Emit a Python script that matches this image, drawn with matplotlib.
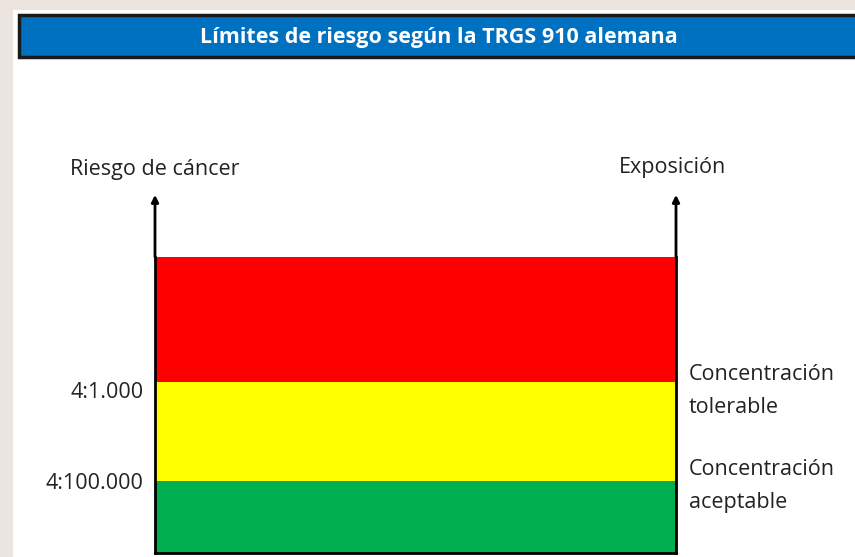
import matplotlib.pyplot as plt
from matplotlib.patches import Rectangle

plt.rcParams['font.family'] = ['Open Sans', 'DejaVu Sans']

# risk bands (bottom -> top), heights in arbitrary risk units
band_names = ["aceptable", "tolerable", "no tolerable"]
band_heights = [0.72, 0.99, 1.25]
band_colors = ["#00b050", "#ffff00", "#ff0000"]
tick_labels = ["4:100.000", "4:1.000"]
right_labels = ["Concentración\naceptable", "Concentración\ntolerable"]

W, H = 855, 557
fig = plt.figure(figsize=(W / 100, H / 100), dpi=100)
fig.patch.set_facecolor("#ece4de")

# white panel
fig.patches.append(Rectangle((13 / W, 0), 1, 1 - 10 / H, transform=fig.transFigure,
                             facecolor="white", edgecolor="none", zorder=-2))
# title bar
fig.patches.append(Rectangle((19 / W, 1 - 57 / H), 1, 42 / H, transform=fig.transFigure,
                             facecolor="#0070c0", edgecolor="#1a1a1a", linewidth=2.5, zorder=-1))
fig.text(439 / W, 1 - 38 / H, "Límites de riesgo según la TRGS 910 alemana",
         ha="center", va="center", color="white", fontsize=15.5, fontweight="bold")

# main box axes
x0, x1, y0, y1 = 155, 676, 257, 553
ax = fig.add_axes([x0 / W, 1 - y1 / H, (x1 - x0) / W, (y1 - y0) / H])
ax.patch.set_alpha(0)
bottom = 0
edges = []
for h, c in zip(band_heights, band_colors):
    ax.bar(0.5, h, width=1, bottom=bottom, color=c, edgecolor="none")
    bottom += h
    edges.append(bottom)
ax.set_xlim(0, 1)
ax.set_ylim(0, bottom)
ax.set_xticks([])
ax.set_yticks([])
for s in ["left", "right", "bottom"]:
    ax.spines[s].set_linewidth(2)
    ax.spines[s].set_color("black")
ax.spines["top"].set_visible(False)

# limit labels on the left, zone labels on the right (small vertical nudges)
left_dy = [-0.025, -0.10]
right_dy = [-0.05, -0.09]
for edge, lab, dy in zip(edges[:2], tick_labels, left_dy):
    ax.text(-0.022, edge + dy, lab, transform=ax.get_yaxis_transform(),
            ha="right", va="center", fontsize=15.5, color="#222222")
for edge, lab, dy in zip(edges[:2], right_labels, right_dy):
    ax.text(1.025, edge + dy, lab, transform=ax.get_yaxis_transform(),
            ha="left", va="center", fontsize=15.5, color="#222222", linespacing=1.7)

# arrows extending above the box
for xa in [0, 1]:
    ax.annotate("", xy=(xa, 1.21), xytext=(xa, 1.0), xycoords="axes fraction",
                arrowprops=dict(arrowstyle="-|>", color="black", lw=2, mutation_scale=10,
                                shrinkA=0, shrinkB=0), annotation_clip=False)

fig.text(155 / W, 1 - 169 / H, "Riesgo de cáncer", ha="center", va="center",
         fontsize=15.5, color="#222222")
fig.text(672 / W, 1 - 167 / H, "Exposición", ha="center", va="center",
         fontsize=15.5, color="#222222")

fig.savefig("out.png", dpi=100, facecolor=fig.get_facecolor())
